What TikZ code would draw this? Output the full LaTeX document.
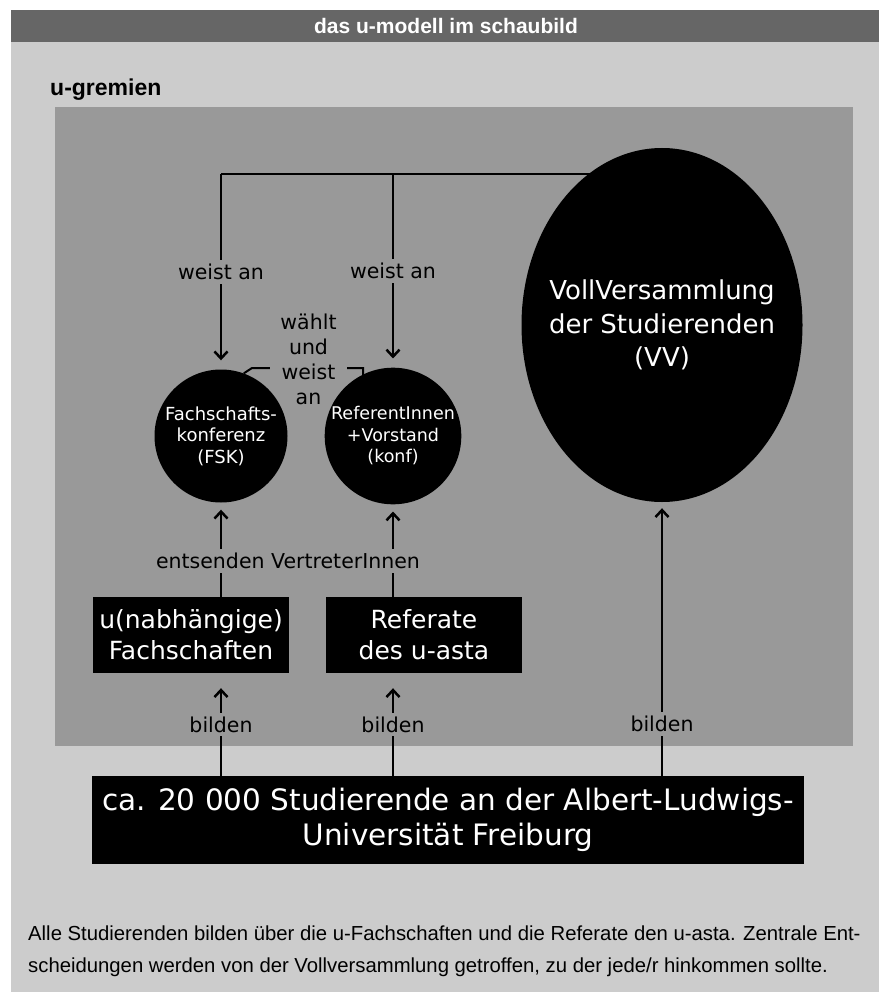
\documentclass[tikz,border=0pt]{standalone}
\usepackage{fontspec}
\setmainfont{DejaVu Sans}
\newfontfamily\arialfont{Liberation Sans}
\usetikzlibrary{arrows.meta,shapes.geometric}
\definecolor{hdr}{HTML}{666666}
\definecolor{lightbg}{HTML}{CCCCCC}
\definecolor{panel}{HTML}{999999}
\pgfdeclarelayer{bg}
\pgfdeclarelayer{lines}
\pgfsetlayers{bg,lines,main}
\begin{document}
\begin{tikzpicture}[x=1pt,y=-1pt,
  ln/.style={line width=2.5pt, black},
  arr/.style={ln, -{Straight Barb[length=7pt,width=13pt]}},
  lab/.style={fill=panel, inner xsep=2pt, inner ysep=4pt, text=black,
    font=\fontsize{20.5}{25}\selectfont, align=center},
  circ/.style={circle, fill=black, text=white, minimum size=133pt, inner sep=0pt,
    align=center, font=\fontsize{18}{21.5}\selectfont},
  blackbox/.style={fill=black, text=white, align=center, inner sep=0pt},
]
\useasboundingbox (0,0) rectangle (879,992);
\begin{pgfonlayer}{bg}
  \fill[lightbg] (11,42) rectangle (879,992);
  \fill[hdr] (11,10) rectangle (879,42);
  \fill[panel] (55,107) rectangle (853,746);
\end{pgfonlayer}

% titles
\node[text=white, inner sep=0pt, font=\arialfont\bfseries\fontsize{21}{24}\selectfont] (title) at (446,26) {das u-modell im schaubild};
\node[anchor=base west, inner sep=0pt, font=\arialfont\bfseries\fontsize{23}{26}\selectfont] (ug) at (50,96) {u-gremien};

% main nodes
\node[circ] (fsk) at (221,436) {Fachschafts-\\konferenz\\(FSK)};
\node[circ, font=\fontsize{17.5}{21.5}\selectfont] (ref) at (393,436) {ReferentInnen\\+Vorstand\\(konf)};
\node[ellipse, fill=black, text=white, minimum width=281pt, minimum height=354pt,
  inner xsep=-20pt, inner ysep=0pt,
  align=center, font=\fontsize{26}{33.5}\selectfont] (vv) at (662,325) {VollVersammlung\\der Studierenden\\(VV)};
\node[blackbox, minimum width=196pt, minimum height=76pt, font=\fontsize{25}{31}\selectfont] (fach) at (191,635) {u(nabhängige)\\Fachschaften};
\node[blackbox, minimum width=196pt, minimum height=76pt, font=\fontsize{25}{31}\selectfont] (refb) at (424,635) {Referate\\des u-asta};
\node[blackbox, minimum width=712pt, minimum height=88pt, font=\fontsize{29.5}{35}\selectfont] (stud) at (448,820) {ca. 20 000 Studierende an der Albert-Ludwigs-\\Universität Freiburg};

% free label
\node[lab] (ev) at (288,561) {entsenden VertreterInnen};

% bottom text
\node[anchor=base west, inner sep=0pt, font=\arialfont\fontsize{20.3}{24}\selectfont] (t1) at (28,940) {Alle Studierenden bilden über die u-Fachschaften und die Referate den u-asta. Zentrale Ent-};
\node[anchor=base west, inner sep=0pt, font=\arialfont\fontsize{20.3}{24}\selectfont] (t2) at (28,972) {scheidungen werden von der Vollversammlung getroffen, zu der jede/r hinkommen sollte.};

\begin{pgfonlayer}{lines}
  \coordinate (tl) at (221,174);
  \draw[ln] (tl) -- (tl -| vv.center);
  \draw[arr, shorten >=9pt] (tl) -- node[lab]{weist an} (fsk.north);
  \draw[arr, shorten >=9pt] (tl -| ref.center) -- node[lab]{weist an} (ref.north);
  \draw[arr, shorten >=7pt] (fsk |- fach.north) -- (fsk.south);
  \draw[arr, shorten >=7pt] (ref |- refb.north) -- (ref.south);
  \draw[arr, shorten >=15pt] (fsk |- stud.north) -- node[lab]{bilden} (fsk |- fach.south);
  \draw[arr, shorten >=15pt] (ref |- stud.north) -- node[lab]{bilden} (ref |- refb.south);
  \draw[arr, shorten >=6pt] (vv |- stud.north) -- node[lab, pos=0.19]{bilden} (vv.south);
  \coordinate (h1) at (252,368);
  \coordinate (h2) at (363,368);
  \coordinate (h3) at (363,375);
  \draw[ln, line width=2pt] (fsk.70) -- (h1) -- (h2) -- (h3);
  \node[lab, inner xsep=10.5pt, inner ysep=2pt] (wu) at (308.5,359.5) {wählt\\und\\weist\\an};
\end{pgfonlayer}
\end{tikzpicture}
\end{document}
